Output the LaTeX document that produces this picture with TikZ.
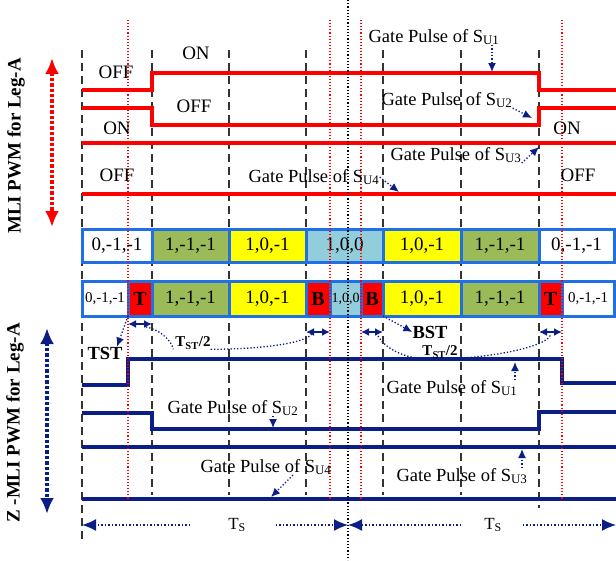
\documentclass[tikz,border=0pt]{standalone}
\usepackage{fontspec}
\setmainfont{Liberation Serif}
\usetikzlibrary{arrows.meta, positioning}
\definecolor{mlired}{HTML}{FF0000}
\definecolor{zsnavy}{HTML}{0A1E86}
\definecolor{cellblue}{HTML}{1F6FE5}
\definecolor{cellgreen}{HTML}{9BBB59}
\definecolor{cellyellow}{HTML}{FFFF00}
\definecolor{cellcyan}{HTML}{92CDDC}

\begin{document}
\begin{tikzpicture}[x=1pt, y=-1pt,
    lbl/.style={font=\fontsize{18.5}{20}\selectfont, inner sep=0pt},
    levellbl/.style={font=\fontsize{19}{20}\selectfont, inner sep=0pt},
    sidelbl/.style={rotate=90, font=\fontsize{19}{20}\selectfont\bfseries, inner sep=0pt},
    cell/.style={draw=cellblue, line width=3pt, minimum height=33pt, inner sep=0pt, outer sep=0pt, font=\fontsize{19}{20}\selectfont},
    zcell/.style={cell, minimum height=35pt},
    smallcell/.style={zcell, font=\fontsize{15}{16}\selectfont},
    stcell/.style={zcell, fill=mlired, font=\fontsize{20}{20}\selectfont\bfseries},
    mliwave/.style={draw=mlired, line width=3.6pt},
    zwave/.style={draw=zsnavy, line width=3.6pt},
    sector/.style={black!80, dash pattern=on 8pt off 5pt, line width=1.4pt},
    switchline/.style={mlired, dotted, line width=1.1pt},
    pointer/.style={-{Latex[length=9pt,width=8pt]}, zsnavy, dotted, line width=1.3pt},
    stspan/.style={{Latex[length=8pt,width=8pt]}-{Latex[length=8pt,width=8pt]}, zsnavy, line width=1.8pt},
    tieline/.style={zsnavy, dotted, line width=1.3pt},
    tsarrow/.style={-{Latex[length=14pt,width=12pt]}, zsnavy, dotted, line width=1.5pt},
    legarrow/.style={{Latex[length=16pt,width=14pt]}-{Latex[length=16pt,width=14pt]}, dotted, line width=3.4pt}
  ]
    \useasboundingbox (0,0) rectangle (616,560);

    % sector boundaries
    \foreach \x in {152,229,306,383,461} \draw[sector] (\x,50) -- (\x,495);
    \draw[sector] (82,50) -- (82,541);
    \draw[sector] (539,50) -- (539,508);

    % MLI gate pulses
    \draw[mliwave] (82,90) -- (152,90) -- (152,73) -- (539,73) -- (539,90) -- (616,90);
    \draw[mliwave] (82,108) -- (152,108) -- (152,125) -- (539,125) -- (539,108) -- (616,108);
    \draw[mliwave] (82,143) -- (616,143);
    \draw[mliwave] (82,194) -- (616,194);

    % Z-MLI gate pulses
    \draw[zwave] (82,385) -- (128,385) -- (128,359) -- (562,359) -- (562,383) -- (616,383);
    \draw[zwave] (82,413) -- (152,413) -- (152,429) -- (539,429) -- (539,412) -- (616,412);
    \draw[zwave] (82,447) -- (616,447);
    \draw[zwave] (82,499) -- (616,499);

    % switching states, MLI
    \node[cell, fill=white, minimum width=70pt, anchor=west] (m1) at (82,246) {0,-1,-1};
    \node[cell, fill=cellgreen, minimum width=77pt, right=0pt of m1] (m2) {1,-1,-1};
    \node[cell, fill=cellyellow, minimum width=77pt, right=0pt of m2] (m3) {1,0,-1};
    \node[cell, fill=cellcyan, minimum width=77pt, right=0pt of m3] (m4) {1,0,0};
    \node[cell, fill=cellyellow, minimum width=78pt, right=0pt of m4] (m5) {1,0,-1};
    \node[cell, fill=cellgreen, minimum width=78pt, right=0pt of m5] (m6) {1,-1,-1};
    \node[cell, fill=white, minimum width=75pt, right=0pt of m6] (m7) {0,-1,-1};

    % switching states, Z-MLI
    \node[smallcell, fill=white, minimum width=46pt, anchor=west] (z1) at (82,298.5) {0,-1,-1};
    \node[stcell, minimum width=24pt, right=0pt of z1] (z2) {T};
    \node[zcell, fill=cellgreen, minimum width=77pt, right=0pt of z2] (z3) {1,-1,-1};
    \node[zcell, fill=cellyellow, minimum width=77pt, right=0pt of z3] (z4) {1,0,-1};
    \node[stcell, minimum width=24pt, right=0pt of z4] (z5) {B};
    \node[smallcell, fill=cellcyan, minimum width=31pt, font=\fontsize{14}{15}\selectfont, right=0pt of z5] (z6) {1,0,0};
    \node[stcell, minimum width=22pt, right=0pt of z6] (z7) {B};
    \node[zcell, fill=cellyellow, minimum width=78pt, right=0pt of z7] (z8) {1,0,-1};
    \node[zcell, fill=cellgreen, minimum width=78pt, right=0pt of z8] (z9) {1,-1,-1};
    \node[stcell, minimum width=23pt, right=0pt of z9] (z10) {T};
    \node[smallcell, fill=white, minimum width=52pt, right=0pt of z10] (z11) {0,-1,-1};

    % switching instants
    \foreach \x in {128,330,361,562} \draw[switchline] (\x,20) -- (\x,499);
    \draw[black, dotted, line width=1.2pt] (348,0) -- (348,560);

    % side labels
    \node[sidelbl] (mlilbl) at (16,146) {MLI PWM for Leg-A};
    \node[sidelbl] (zlbl) at (15,423) {Z -MLI PWM for Leg-A};
    \coordinate (mlitop) at (52,58);
    \coordinate (mlibot) at (52,227);
    \coordinate (ztop) at (47,328);
    \coordinate (zbot) at (47,514);
    \draw[legarrow, mlired] (mlitop) -- (mlibot);
    \draw[legarrow, zsnavy] (ztop) -- (zbot);

    % levels, MLI
    \node[levellbl] (off1) at (116,72) {OFF};
    \node[levellbl] (on1) at (196,53) {ON};
    \node[levellbl] (off2) at (194,106) {OFF};
    \node[levellbl] (on2) at (117,128) {ON};
    \node[levellbl] (off3) at (117,175) {OFF};
    \node[levellbl] (on3) at (567,128) {ON};
    \node[levellbl] (off4) at (578,175) {OFF};

    % gate pulse labels, MLI
    \node[lbl] (gu1) at (434,37) {Gate Pulse of S\textsubscript{U1}};
    \node[lbl] (gu2) at (447,100) {Gate Pulse of S\textsubscript{U2}};
    \node[lbl] (gu3) at (456,155) {Gate Pulse of S\textsubscript{U3}};
    \node[lbl] (gu4) at (314,177) {Gate Pulse of S\textsubscript{U4}};
    \coordinate (tu1) at (492,72);
    \coordinate (tu2) at (532,118);
    \coordinate (tu3) at (539,147);
    \coordinate (tu4) at (399,192);
    \draw[pointer] (gu1.south -| tu1) -- (tu1);
    \draw[pointer] (gu2.south east) -- (tu2);
    \draw[pointer] (gu3.south east) -- (tu3);
    \draw[pointer] (gu4.east) -- (tu4);

    % gate pulse labels, Z-MLI
    \node[lbl] (zg1) at (452,388) {Gate Pulse of S\textsubscript{U1}};
    \node[lbl] (zg2) at (233,408) {Gate Pulse of S\textsubscript{U2}};
    \node[lbl] (zg3) at (462,476) {Gate Pulse of S\textsubscript{U3}};
    \node[lbl] (zg4) at (266,467) {Gate Pulse of S\textsubscript{U4}};
    \coordinate (zt1) at (515,362);
    \coordinate (zt2) at (273,428);
    \coordinate (zt3) at (522,449);
    \coordinate (zt4) at (271,497);
    \draw[pointer] (zg1.north -| zt1) -- (zt1);
    \draw[pointer] (zg2.south -| zt2) -- (zt2);
    \draw[pointer] (zg3.north -| zt3) -- (zt3);
    \draw[pointer] ([xshift=27pt]zg4.south) -- (zt4);

    % shoot-through intervals
    \draw[stspan] ([yshift=-8pt]z2.south west) -- ([yshift=-8pt]z2.south east);
    \draw[stspan] ([yshift=-16pt]z5.south west) -- ([yshift=-16pt]z5.south east);
    \draw[stspan] ([yshift=-16pt]z7.south west) -- ([yshift=-16pt]z7.south east);
    \draw[stspan] ([yshift=-16pt]z10.south west) -- ([yshift=-16pt]z10.south east);

    \node[levellbl, font=\fontsize{18.5}{20}\selectfont\bfseries] (tst) at (105,353) {TST};
    \node[levellbl, font=\fontsize{18.5}{20}\selectfont\bfseries] (bst) at (430,332) {BST};
    \draw[pointer] (z2.south west) -- ([xshift=12pt]tst.north);
    \draw[pointer] (z7.south east) -- (bst.west);

    \node[lbl, font=\fontsize{15}{16}\selectfont\bfseries] (tst1) at (193,343) {T\textsubscript{ST}/2};
    \node[lbl, font=\fontsize{15}{16}\selectfont\bfseries] (tst2) at (440,352) {T\textsubscript{ST}/2};
    \draw[tieline] ([xshift=6pt,yshift=-11pt]z2.south) .. controls +(12,2) and +(-2,-10) .. ([xshift=-2pt]tst1.south west);
    \draw[tieline] (tst1.south east) .. controls +(50,0) and +(-3,10) .. ([xshift=-6pt,yshift=-17pt]z5.south);
    \draw[tieline] ([xshift=6pt,yshift=-20pt]z7.south) .. controls +(8,14) and +(-15,0) .. (tst2.south west);
    \draw[tieline] (tst2.south east) .. controls +(50,-3) and +(0,10) .. ([yshift=-18pt]z10.south);

    % switching period
    \node[lbl, font=\fontsize{17}{18}\selectfont] (ts1) at (237,525) {T\textsubscript{S}};
    \node[lbl, font=\fontsize{17}{18}\selectfont] (ts2) at (493,525) {T\textsubscript{S}};
    \coordinate (tsl) at (82,525);
    \coordinate (tsm) at (348,525);
    \coordinate (tsr) at (616,525);
    \draw[tsarrow] ([xshift=-38pt]ts1.west) -- (tsl);
    \draw[tsarrow] ([xshift=30pt]ts1.east) -- (tsm);
    \draw[tsarrow] ([xshift=-23pt]ts2.west) -- (tsm);
    \draw[tsarrow] ([xshift=21pt]ts2.east) -- (tsr);
  \end{tikzpicture}
\end{document}
